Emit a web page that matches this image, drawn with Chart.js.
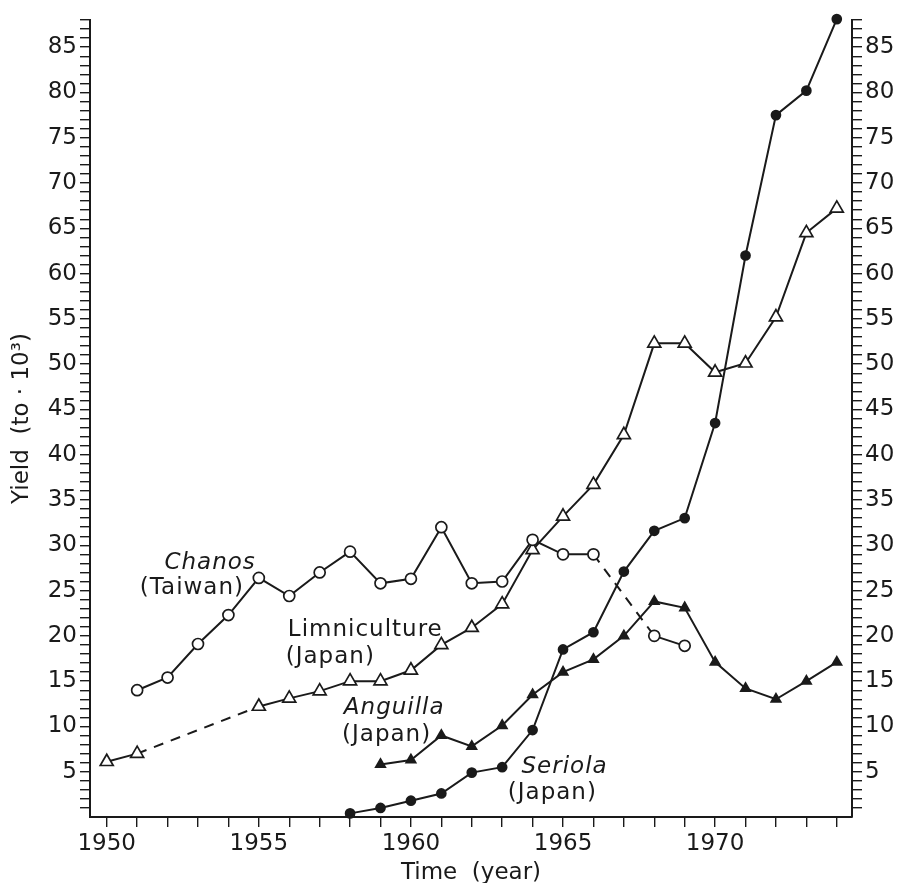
<!DOCTYPE html>
<html>
<head>
<meta charset="utf-8">
<script src="https://cdn.jsdelivr.net/npm/chart.js@4.4.0/dist/chart.umd.min.js"></script>
<style>
  html, body { margin: 0; padding: 0; background: #fff; }
  #wrap { width: 913px; height: 883px; }
</style>
</head>
<body>
<div id="wrap"><canvas id="yieldChart"></canvas></div>
<script>
// yearly yield, thousand tonnes (null = no value)
const years = [1950, 1951, 1952, 1953, 1954, 1955, 1956, 1957, 1958, 1959, 1960, 1961, 1962,
  1963, 1964, 1965, 1966, 1967, 1968, 1969, 1970, 1971, 1972, 1973, 1974];
const chanos = [null, 14.0, 15.4, 19.1, 22.3, 26.4, 24.4, 27.0, 29.3, 25.8, 26.3, 32.0, 25.8,
  26.0, 30.6, 29.0, 29.0, null, 20.0, 18.9, null, null, null, null, null];
const limniculture = [6.1, 7.0, null, null, null, 12.2, 13.1, 13.9, 15.0, 15.0, 16.2, 19.0, 20.9,
  23.5, 29.5, 33.2, 36.7, 42.2, 52.3, 52.3, 49.1, 50.1, 55.2, 64.5, 67.2];
const anguilla = [null, null, null, null, null, null, null, null, null, 5.8, 6.3, 9.0, 7.8,
  10.1, 13.5, 16.0, 17.4, 20.0, 23.8, 23.1, 17.1, 14.2, 13.0, 15.0, 17.1];
const seriola = [null, null, null, null, null, null, null, null, 0.4, 1.0, 1.8, 2.6, 4.9,
  5.5, 9.6, 18.5, 20.4, 27.1, 31.6, 33.0, 43.5, 62.0, 77.5, 80.2, 88.1];

const yLabelTicks = [5, 10, 15, 20, 25, 30, 35, 40, 45, 50, 55, 60, 65, 70, 75, 80, 85];
const xLabelTicks = [1950, 1955, 1960, 1965, 1970];

// series names written next to the curves (anchored in data units)
const seriesNotes = [
  { text: 'Chanos', x: 1953.4, y: 28.0, italic: true },
  { text: '(Taiwan)', x: 1952.8, y: 25.3, italic: false },
  { text: 'Limniculture', x: 1958.5, y: 20.6, italic: false },
  { text: '(Japan)', x: 1957.35, y: 17.7, italic: false },
  { text: 'Anguilla', x: 1959.45, y: 12.0, italic: true },
  { text: '(Japan)', x: 1959.2, y: 9.05, italic: false },
  { text: 'Seriola', x: 1965.05, y: 5.5, italic: true },
  { text: '(Japan)', x: 1964.65, y: 2.65, italic: false }
];

const ink = '#1a1a1a';
const fontFamily = '"DejaVu Sans", sans-serif';
const fontSize = 23;

function toPoints(values) {
  return years.map((yr, i) => ({ x: yr, y: values[i] })).filter(p => p.y !== null);
}

// dashed where years are missing
const gapDash = ctx => (ctx.p1.parsed.x - ctx.p0.parsed.x > 1 ? [10, 8] : undefined);

function series(label, values, style, filled, radius) {
  return {
    label: label,
    data: toPoints(values),
    borderColor: ink,
    borderWidth: 2,
    pointStyle: style,
    pointRadius: radius,
    pointBorderWidth: 1.7,
    pointBorderColor: ink,
    pointBackgroundColor: filled ? ink : '#fff',
    tension: 0,
    clip: false,
    segment: { borderDash: gapDash }
  };
}

const notesPlugin = {
  id: 'seriesNotes',
  afterDatasetsDraw(chart) {
    const c = chart.ctx;
    const xs = chart.scales.x, ys = chart.scales.y;
    c.save();
    c.fillStyle = ink;
    c.textAlign = 'center';
    c.textBaseline = 'middle';
    c.letterSpacing = '1px';
    seriesNotes.forEach(n => {
      c.font = (n.italic ? 'italic ' : '') + fontSize + 'px ' + fontFamily;
      c.fillText(n.text, xs.getPixelForValue(n.x), ys.getPixelForValue(n.y));
    });
    c.restore();
  }
};

function yAxis(pos, width) {
  return {
    type: 'linear',
    position: pos,
    min: 0,
    max: 88,
    afterBuildTicks: s => {
      const t = [];
      for (let v = 1; v <= 88; v++) t.push({ value: v });
      s.ticks = t;
    },
    afterFit: s => { s.width = width; },
    ticks: {
      autoSkip: false,
      padding: 3,
      color: ink,
      font: { family: fontFamily, size: fontSize },
      callback: v => (yLabelTicks.includes(v) ? String(v) : '')
    },
    grid: { drawOnChartArea: false, drawTicks: true, tickLength: 10, color: ink, lineWidth: 1.4 },
    border: { display: true, color: ink, width: 2 },
    title: pos === 'left' ? {
      display: true,
      text: 'Yield  (to · 10³)',
      color: ink,
      font: { family: fontFamily, size: fontSize },
      padding: { top: 8, bottom: 0 }
    } : { display: false }
  };
}

const ctx = document.getElementById('yieldChart').getContext('2d');
const yieldChart = new Chart(ctx, {
  type: 'line',
  data: {
    datasets: [
      series('Chanos (Taiwan)', chanos, 'circle', false, 5.5),
      series('Limniculture (Japan)', limniculture, 'triangle', false, 7.5),
      series('Anguilla (Japan)', anguilla, 'triangle', true, 5.5),
      series('Seriola (Japan)', seriola, 'circle', true, 4.5)
    ]
  },
  options: {
    responsive: true,
    maintainAspectRatio: false,
    animation: false,
    layout: { padding: { top: 20, left: 0, right: 0, bottom: 0 } },
    plugins: { legend: { display: false }, tooltip: { enabled: false } },
    scales: {
      x: {
        type: 'linear',
        min: 1949.45,
        max: 1974.5,
        afterBuildTicks: s => { s.ticks = years.map(v => ({ value: v })); },
        afterFit: s => { s.height = 66; },
        ticks: {
          autoSkip: false,
          maxRotation: 0,
          padding: 3,
          color: ink,
          font: { family: fontFamily, size: fontSize },
          callback: v => (xLabelTicks.includes(v) ? String(v) : '')
        },
        grid: { drawOnChartArea: false, drawTicks: true, tickLength: 10, color: ink, lineWidth: 1.4 },
        border: { display: true, color: ink, width: 2 },
        title: {
          display: true,
          text: 'Time  (year)',
          color: ink,
          font: { family: fontFamily, size: fontSize },
          padding: { top: 0, bottom: -4 }
        }
      },
      y: yAxis('left', 90),
      y2: yAxis('right', 61)
    }
  },
  plugins: [notesPlugin]
});
</script>
</body>
</html>
